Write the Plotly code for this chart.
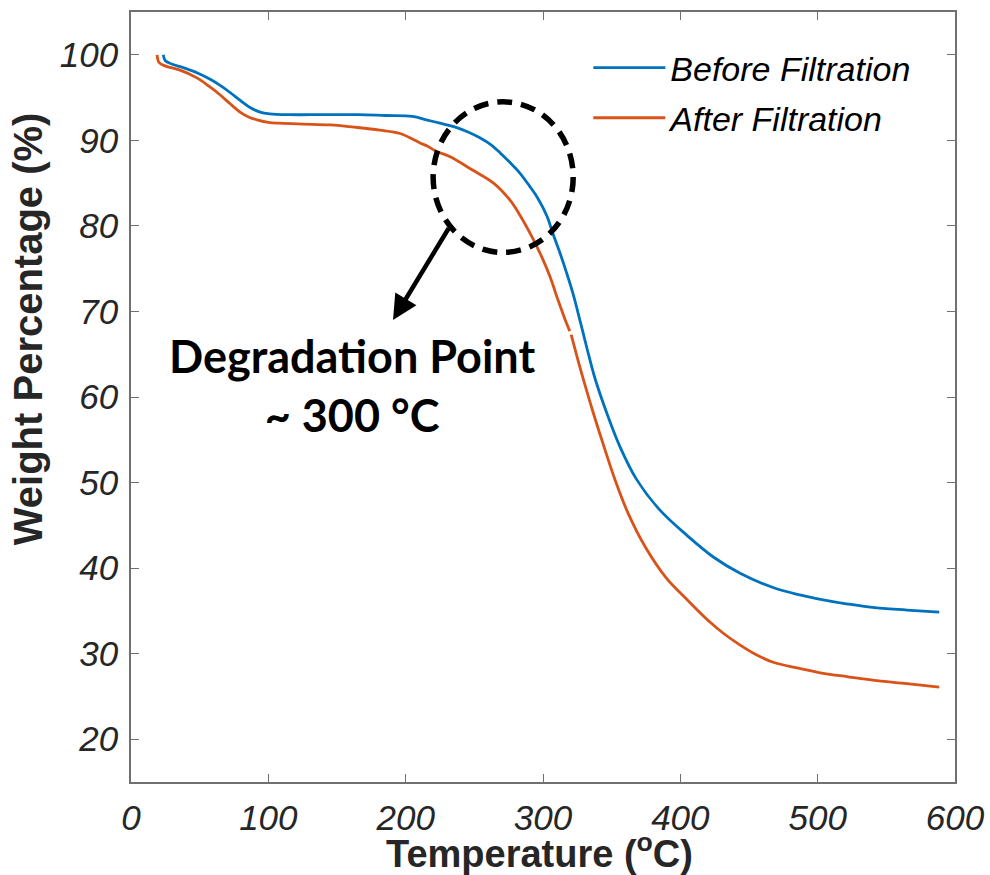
import plotly.graph_objects as go

# ---- data ----
before_T = [23.5, 25, 30, 38, 48, 58, 66, 72, 80, 87, 94, 101, 115, 140, 165, 185, 205, 215, 225, 235,
            245, 254, 262, 269, 276, 283, 290, 296, 303, 307, 312, 317, 322, 327, 332, 338, 346.5, 356, 368, 385,
            405, 424, 443.5, 468, 486, 504, 522, 540, 565, 588.5]
before_W = [100.0, 99.3, 98.9, 98.5, 97.9, 97.1, 96.3, 95.6, 94.6, 93.8, 93.3, 93.1, 93.0, 93.0, 93.0, 92.9, 92.8, 92.4, 92.0, 91.6,
            91.0, 90.3, 89.5, 88.5, 87.4, 86.2, 84.7, 83.3, 81.1, 79.2, 77.0, 74.6, 72.0, 68.9, 65.7, 62.1, 58.1, 54.2, 50.4, 46.8,
            43.8, 41.3, 39.4, 37.7, 36.9, 36.3, 35.8, 35.4, 35.1, 34.85]

after_T = [19.0, 20.4, 24.8, 35.7, 48, 57, 65, 72, 79.4, 86, 91.8, 100, 108.5, 125, 145, 165, 181, 196, 210.5, 216,
           222.6, 232, 249, 264, 276, 283, 293, 299, 305, 311, 316, 319.5, None, 320.5, 326, 329.5, 336.7, 344, 352.5, 362,
           374.4, 390, 405, 419.5, 432, 443.6, 455, 467.6, 486, 504, 522, 540, 565, 588.5]
after_W = [100.0, 99.1, 98.7, 98.2, 97.3, 96.3, 95.3, 94.3, 93.3, 92.7, 92.4, 92.1, 92.0, 91.9, 91.8, 91.5, 91.2, 90.8, 89.7, 89.3,
           88.7, 88.1, 86.5, 85.0, 83.0, 81.3, 78.4, 76.4, 74.1, 71.3, 69.1, 67.7, None, 67.3, 64.0, 62.0, 58.1, 54.4, 50.3, 46.4,
           42.5, 38.8, 36.3, 34.0, 32.3, 31.0, 29.9, 29.0, 28.3, 27.7, 27.3, 26.9, 26.5, 26.1]

x_ticks = [0, 100, 200, 300, 400, 500, 600]
y_ticks = [20, 30, 40, 50, 60, 70, 80, 90, 100]

series_names = ["Before Filtration", "After Filtration"]
series_colors = ["#0072BD", "#D95319"]

# annotation geometry (data coords)
circle_box = dict(x0=220, x1=322, y0=76.9, y1=94.5)
arrow_tail = (232, 79.9)
arrow_head = (190.8, 69.0)
label_pos = (161, 61.3)

fig = go.Figure()
fig.add_trace(go.Scatter(x=before_T, y=before_W, mode="lines", name=series_names[0],
                         line=dict(color=series_colors[0], width=2.8, shape="spline", smoothing=1.0),
                         legendgroup="a"))
fig.add_trace(go.Scatter(x=after_T, y=after_W, mode="lines", name=series_names[1],
                         line=dict(color=series_colors[1], width=2.8, shape="spline", smoothing=1.0),
                         legendgroup="b"))

fig.add_shape(type="circle", xref="x", yref="y", **circle_box,
              line=dict(color="black", width=5.5, dash="15px,9px"))

fig.add_annotation(x=arrow_head[0], y=arrow_head[1], ax=arrow_tail[0], ay=arrow_tail[1],
                   xref="x", yref="y", axref="x", ayref="y", text="", showarrow=True,
                   arrowhead=2, arrowsize=1.1, arrowwidth=4.5, arrowcolor="black", standoff=0)

fig.add_annotation(x=label_pos[0], y=label_pos[1], xref="x", yref="y", showarrow=False,
                   text="<b>Degradation Point</b><br><b>~ 300 °C</b>",
                   font=dict(family="Lato", size=45, color="black"), align="center")

# axis titles
fig.add_annotation(x=-0.125, y=0.588, xref="paper", yref="paper", showarrow=False, textangle=-90,
                   text="<b>Weight Percentage (%)</b>", xanchor="center", yanchor="middle",
                   font=dict(family="Liberation Sans", size=40, color="#262626"))
fig.add_annotation(x=0.496, y=-0.090, xref="paper", yref="paper", showarrow=False,
                   text="<b>Temperature (<sup>o</sup>C)</b>", xanchor="center", yanchor="middle",
                   font=dict(family="Liberation Sans Narrow, Liberation Sans", size=38, color="#262626"))

axis_common = dict(showgrid=False, zeroline=False, showline=True, linecolor="#707070", linewidth=1.5,
                   mirror="ticks", ticks="inside", ticklen=8, tickwidth=1.3, tickcolor="#707070")

fig.update_xaxes(range=[0, 600], tickvals=x_ticks, ticktext=[str(v) for v in x_ticks],
                 tickfont=dict(family="Liberation Sans", size=35, color="#262626", style="italic"),
                 ticklabelstandoff=4, **axis_common)
fig.update_yaxes(range=[15, 105], tickvals=y_ticks, ticktext=[str(v) for v in y_ticks],
                 tickfont=dict(family="Liberation Sans", size=35, color="#262626", style="italic"),
                 ticklabelstandoff=4, **axis_common)

fig.update_layout(
    width=990, height=875,
    margin=dict(l=131, r=35, t=12, b=93, autoexpand=False),
    paper_bgcolor="white", plot_bgcolor="white",
    showlegend=True,
    legend=dict(x=0.555, y=0.965, xanchor="left", yanchor="top", bgcolor="rgba(0,0,0,0)",
                font=dict(family="Liberation Sans", size=34, color="black", style="italic"),
                tracegroupgap=3, itemwidth=72),
)

fig.write_html("out.html", config={"displayModeBar": False},
               post_script="document.body.style.margin='0px';document.body.style.overflow='hidden';")
